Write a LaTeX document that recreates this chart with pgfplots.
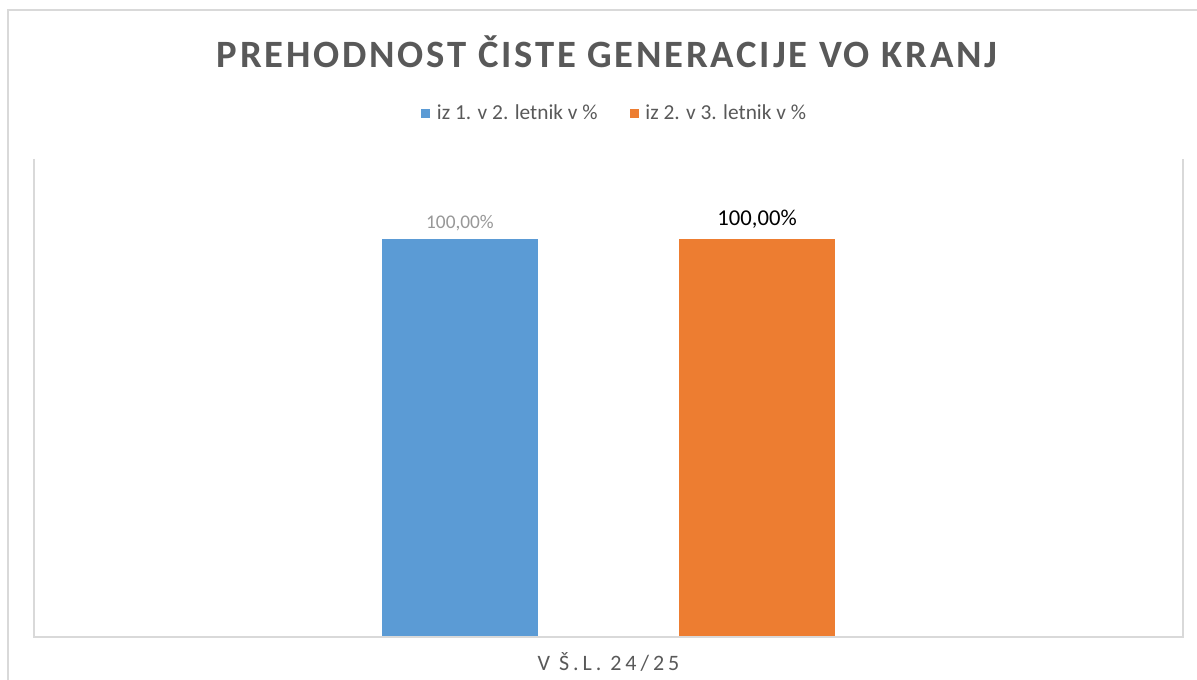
\documentclass[border=0pt]{standalone}
\usepackage{fontspec}
\setmainfont{Carlito}
\newfontfamily\titlefont[LetterSpace=7.2]{Carlito}
\newfontfamily\xlfont[LetterSpace=18]{Carlito}
\usepackage{pgfplots}
\pgfplotsset{compat=1.18}
\definecolor{cblue}{HTML}{5B9BD5}
\definecolor{corange}{HTML}{ED7D31}
\definecolor{tgrey}{HTML}{595959}
\definecolor{lgrey}{HTML}{D9D9D9}
\definecolor{lblgrey}{HTML}{989898}
\begin{document}
\begin{tikzpicture}
\useasboundingbox (0pt,0pt) rectangle (897.75pt,509.25pt);
\fill[white] (0pt,0pt) rectangle (897.75pt,509.25pt);
\draw[lgrey,line width=1.5pt] (6pt,-2pt) -- (6pt,501.75pt) -- (899pt,501.75pt);
\begin{axis}[
  at={(25.5pt,31.5pt)}, anchor=south west,
  scale only axis, width=861.75pt, height=358.5pt,
  xmin=-0.5, xmax=0.5, ymin=0, ymax=120,
  ybar, bar width=117pt,
  axis line style={draw=none},
  ytick=\empty, xtick={0}, xticklabels={\xlfont V Š.L. 24/25},
  major tick length=0pt,
  xticklabel style={font=\fontsize{16.5}{19}\selectfont, text=tgrey, yshift=-8pt},
  clip=false,
  title={\titlefont\bfseries PREHODNOST ČISTE GENERACIJE VO KRANJ},
  title style={at={(0.4987,1.207)}, anchor=center, font=\fontsize{29}{34}\selectfont, text=tgrey},
  legend style={at={(0.5057,1.096)}, anchor=center, draw=none, fill=none,
    legend columns=2, font=\fontsize{16}{19}\selectfont, text=tgrey,
    /tikz/every even column/.append style={column sep=22pt}},
  legend image code/.code={\fill[#1] (0pt,-3.375pt) rectangle (6.75pt,3.375pt);},
  point meta=y,
  /pgf/number format/assume math mode=true,
]
\addplot[fill=cblue, draw=none, bar shift=-111.4pt,
  nodes near coords={\pgfmathprintnumber[fixed,fixed zerofill,precision=2,use comma]{\pgfplotspointmeta}\%},
  every node near coord/.append style={font=\fontsize{14.5}{17}\selectfont, text=lblgrey, yshift=2pt}]
  coordinates {(0,100)};
\addplot[fill=corange, draw=none, bar shift=111.4pt,
  nodes near coords={\pgfmathprintnumber[fixed,fixed zerofill,precision=2,use comma]{\pgfplotspointmeta}\%},
  every node near coord/.append style={font=\fontsize{17}{20}\selectfont, text=black, yshift=4pt}]
  coordinates {(0,100)};
\legend{\hspace{3pt}iz 1. v 2. letnik v \%, \hspace{3pt}iz 2. v 3. letnik v \%}
\end{axis}
\draw[lgrey,line width=1.5pt] (25.5pt,390pt) -- (25.5pt,31.5pt) -- (887.25pt,31.5pt) -- (887.25pt,390pt);
\end{tikzpicture}
\end{document}
